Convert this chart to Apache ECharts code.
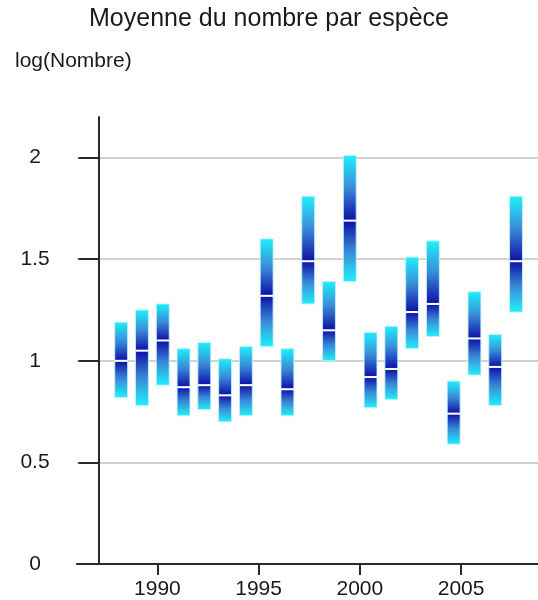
<!DOCTYPE html>
<html>
<head>
<meta charset="utf-8">
<script src="https://cdn.jsdelivr.net/npm/echarts@6/dist/echarts.min.js"></script>
<style>html,body{margin:0;padding:0;background:#fff;}#chart{width:538px;height:600px;}</style>
</head>
<body>
<div id="chart"></div>
<script>
var years = [1988,1989,1990,1991,1992,1993,1994,1995,1996,1997,1998,1999,2000,2001,2002,2003,2004,2005,2006,2007];
var highs = [1.19,1.25,1.28,1.06,1.09,1.01,1.07,1.60,1.06,1.81,1.39,2.01,1.14,1.17,1.51,1.59,0.90,1.34,1.13,1.81];
var means = [1.00,1.05,1.10,0.87,0.88,0.83,0.88,1.32,0.86,1.49,1.15,1.69,0.92,0.96,1.24,1.28,0.74,1.11,0.97,1.49];
var lows  = [0.82,0.78,0.88,0.73,0.76,0.70,0.73,1.07,0.73,1.28,1.00,1.39,0.77,0.81,1.06,1.12,0.59,0.93,0.78,1.24];
var xTicks = [1990,1995,2000,2005];
var yTicks = [0,0.5,1,1.5,2];
var titleText = 'Moyenne du nombre par espèce';
var yName = 'log(Nombre)';

var data = years.map(function(y,i){ return [y, highs[i], means[i], lows[i]]; });
var FONT = '"Liberation Sans", Arial, sans-serif';
var CYAN = '#1ef2fa', NAVY = '#0c0ca6';

var chart = echarts.init(document.getElementById('chart'), null, {renderer:'canvas'});
chart.setOption({
  animation:false,
  backgroundColor:'#ffffff',
  title:[
    {text:titleText, left:'center', top:7, padding:0,
     textStyle:{fontFamily:FONT, fontSize:25, fontWeight:'normal', color:'#1a1a1a'}},
    {text:yName, left:15, top:51, padding:0,
     textStyle:{fontFamily:FONT, fontSize:21, fontWeight:'normal', color:'#1a1a1a'}}
  ],
  grid:{left:77, right:0, top:117, bottom:36, containLabel:false},
  xAxis:[
    {type:'value', min:1986.03, max:2008.8, position:'bottom',
     axisLine:{show:true, onZero:false, lineStyle:{color:'#2a2a2a', width:2}},
     axisTick:{show:true, customValues:xTicks, length:11, inside:false, lineStyle:{color:'#2a2a2a', width:2}},
     axisLabel:{show:true, customValues:xTicks, margin:15, fontFamily:FONT, fontSize:21, color:'#1a1a1a',
       formatter:function(v){ return String(v); }},
     splitLine:{show:false}},
    {type:'value', min:1985.873, max:2008.058, show:false}
  ],
  yAxis:{type:'value', min:0, max:2.2, interval:0.5, offset:-21.5,
     axisLine:{show:true, lineStyle:{color:'#2a2a2a', width:2}},
     axisTick:{show:true, customValues:yTicks, length:20, inside:false, lineStyle:{color:'#2a2a2a', width:2}},
     axisLabel:{customValues:yTicks, margin:63.5, align:'center', fontFamily:FONT, fontSize:21, color:'#1a1a1a',
       formatter:function(v){ return String(v); }},
     splitLine:{show:true, lineStyle:{color:'#d2d2d2', width:2}}},
  series:[{
    type:'custom', xAxisIndex:1, yAxisIndex:0,
    encode:{x:0, y:[1,2,3]},
    data:data,
    renderItem:function(params, api){
      var x = api.value(0);
      var pTop = api.coord([x, api.value(1)]);
      var pMean = api.coord([x, api.value(2)]);
      var pBot = api.coord([x, api.value(3)]);
      var w = api.size([1,0])[0]*0.62;
      var left = pTop[0] - w/2;
      return {type:'group', children:[
        {type:'rect', shape:{x:left, y:pTop[1], width:w, height:pMean[1]-pTop[1]},
         style:{fill:new echarts.graphic.LinearGradient(0,0,0,1,[{offset:0,color:CYAN},{offset:0.5,color:'#3a8ad8'},{offset:1,color:NAVY}]),
                stroke:'rgba(190,240,255,0.9)', lineWidth:1}},
        {type:'rect', shape:{x:left, y:pMean[1], width:w, height:pBot[1]-pMean[1]},
         style:{fill:new echarts.graphic.LinearGradient(0,0,0,1,[{offset:0,color:NAVY},{offset:0.5,color:'#3a8ad8'},{offset:1,color:CYAN}]),
                stroke:'rgba(190,240,255,0.9)', lineWidth:1}},
        {type:'rect', shape:{x:left, y:pMean[1]-1, width:w, height:2},
         style:{fill:'#ffffff'}}
      ]};
    }
  }]
});
</script>
</body>
</html>
